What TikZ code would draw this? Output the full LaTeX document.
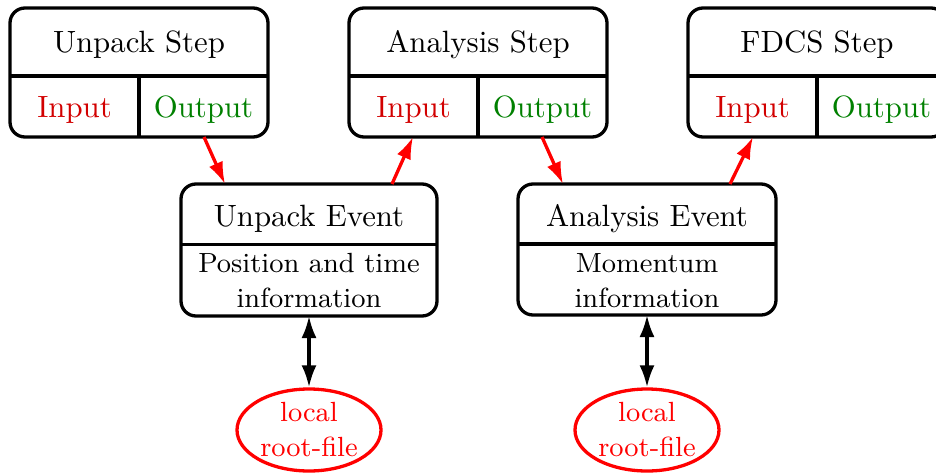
\documentclass[tikz,border=0pt]{standalone}
\usetikzlibrary{arrows.meta,shapes.geometric,calc}
\newcommand\TT[1]{\scalebox{3.08}{#1}}
\newcommand\BT[1]{\scalebox{3.08}{\fontsize{9}{11.4}\selectfont\begin{tabular}[t]{@{}c@{}}#1\end{tabular}}}
\definecolor{inred}{RGB}{210,0,0}
\definecolor{outgreen}{RGB}{0,128,0}
\begin{document}
\begin{tikzpicture}[x=1pt,y=-1pt,
  box/.style={draw,line width=3.3pt,rounded corners=15pt,inner sep=0pt,outer sep=0pt},
  sep/.style={line width=3.3pt},
  txt/.style={inner sep=0pt,anchor=base},
  flow/.style={red,line width=3.3pt,-{Latex[length=22pt,width=15pt]}},
  io/.style={black,line width=3.3pt,{Latex[length=22pt,width=15pt]}-{Latex[length=22pt,width=15pt]}},
  file/.style={draw=red,line width=3.3pt,ellipse,minimum width=144pt,minimum height=82pt,inner sep=0pt}]
\useasboundingbox (0,0) rectangle (936,472);
% Step boxes
\foreach \n/\cx in {us/139,as/478,fs/817}{
  \node[box,minimum width=258pt,minimum height=129pt] (\n) at (\cx,72.5) {};
  \draw[sep] (\n.west |- 0,76) -- (\n.east |- 0,76);
  \draw[sep] (\cx,76) -- (\n.south);
}
\node[txt] (ust) at (139,52) {\TT{Unpack Step}};
\node[txt] (ast) at (478,52) {\TT{Analysis Step}};
\node[txt] (fst) at (817,52) {\TT{FDCS Step}};
\foreach \n/\cx in {us/139,as/478,fs/817}{
  \node[txt,text=inred] (\n in) at (\cx-64.5,117) {\TT{Input}};
  \node[txt,text=outgreen] (\n out) at (\cx+64.5,117) {\TT{Output}};
}
% Event boxes
\node[box,minimum width=256pt,minimum height=132pt] (ue) at (309,250) {};
\node[box,minimum width=258pt,minimum height=131pt] (ae) at (647,249.5) {};
\draw[sep] (ue.west |- 0,244.5) -- (ue.east |- 0,244.5);
\draw[sep] (ae.west |- 0,244) -- (ae.east |- 0,244);
\node[txt] (uet) at (309,226.7) {\TT{Unpack Event}};
\node[txt] (aet) at (647,226.7) {\TT{Analysis Event}};
\node[txt] (ueb) at (309,272) {\BT{Position and time\\information}};
\node[txt] (aeb) at (647,272) {\BT{Momentum\\information}};
% Files
\node[file] (uf) at (309,430) {};
\node[file] (af) at (647,430) {};
\node[txt,text=red] (uft) at (309,421.7) {\BT{local\\root-file}};
\node[txt,text=red] (aft) at (647,421.7) {\BT{local\\root-file}};
% Connectors
\draw[flow] ($(us.south)+(65,0)$) -- ($(ue.north)+(-84,0)$);
\draw[flow] ($(ue.north)+(83,0)$) -- ($(as.south)+(-65,0)$);
\draw[flow] ($(as.south)+(64,0)$) -- ($(ae.north)+(-84,0)$);
\draw[flow] ($(ae.north)+(83,0)$) -- ($(fs.south)+(-64,0)$);
\draw[io] (ue.south) -- (uf.north);
\draw[io] (ae.south) -- (af.north);
\end{tikzpicture}
\end{document}
